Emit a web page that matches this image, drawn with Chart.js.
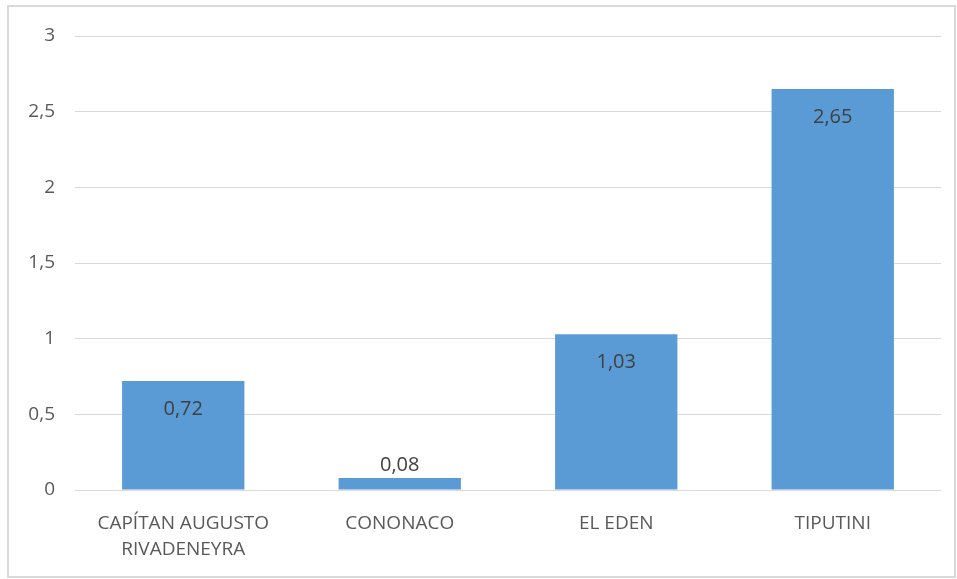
<!DOCTYPE html>
<html>
<head>
<meta charset="utf-8">
<script src="https://cdn.jsdelivr.net/npm/chart.js@4"></script>
<style>
html,body{margin:0;padding:0;background:#fff;}
#wrap{width:957px;height:579px;position:relative;}
</style>
</head>
<body>
<div id="wrap"><canvas id="c" width="957" height="579"></canvas></div>
<script>
const categories = [['CAPÍTAN AUGUSTO','RIVADENEYRA'], 'CONONACO', 'EL EDEN', 'TIPUTINI'];
const values = [0.72, 0.08, 1.03, 2.65];
const yTicks = [0, 0.5, 1, 1.5, 2, 2.5, 3];

const fmt = v => String(v).replace('.', ',');

const borderPlugin = {
  id: 'border',
  beforeDraw(chart) {
    const ctx = chart.ctx;
    ctx.save();
    ctx.fillStyle = '#fff';
    ctx.fillRect(0, 0, chart.width, chart.height);
    ctx.strokeStyle = '#d9d9d9';
    ctx.lineWidth = 2;
    ctx.strokeRect(8, 6, 947, 571);
    ctx.restore();
  }
};

const labelPlugin = {
  id: 'vlabels',
  afterDatasetsDraw(chart) {
    const ctx = chart.ctx;
    const meta = chart.getDatasetMeta(0);
    ctx.save();
    ctx.font = '20px "Open Sans"';
    ctx.fillStyle = '#404040';
    ctx.textAlign = 'center';
    ctx.textBaseline = 'middle';
    meta.data.forEach((bar, i) => {
      const v = values[i];
      const h = bar.base - bar.y;
      const y = h > 45 ? bar.y + 28 : bar.y - 13;
      ctx.fillText(fmt(v), bar.x, y);
    });
    ctx.restore();
  }
};

new Chart(document.getElementById('c'), {
  type: 'bar',
  data: {
    labels: categories,
    datasets: [{
      data: values,
      backgroundColor: '#5b9bd5',
      borderWidth: 0,
      categoryPercentage: 1,
      barPercentage: 0.565
    }]
  },
  options: {
    responsive: false,
    animation: false,
    events: [],
    layout: { padding: { left: 9, top: 36, right: 16, bottom: 0 } },
    plugins: { legend: { display: false }, tooltip: { enabled: false } },
    scales: {
      x: {
        grid: { display: false, drawTicks: false },
        border: { display: false },
        ticks: { color: '#595959', font: { family: 'Open Sans', size: 19, lineHeight: 1.4 }, padding: 20, maxRotation: 0, autoSkip: false },
        afterFit(s) { s.height = 89; }
      },
      y: {
        min: 0, max: 3,
        grid: { color: '#d9d9d9', lineWidth: 1, drawTicks: false },
        border: { display: false },
        afterBuildTicks(s) { s.ticks = yTicks.map(v => ({ value: v })); },
        ticks: { color: '#595959', font: { family: 'Open Sans', size: 19 }, padding: 20, callback: v => fmt(v) },
        afterFit(s) { s.width = 66; }
      }
    }
  },
  plugins: [borderPlugin, labelPlugin]
});
</script>
</body>
</html>
